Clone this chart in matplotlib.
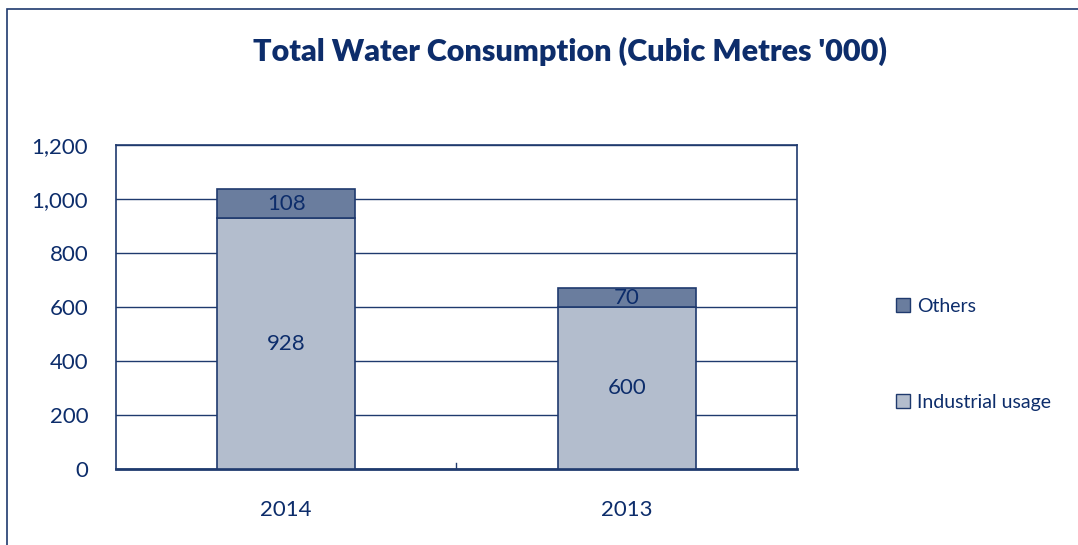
import matplotlib.pyplot as plt
import matplotlib.patches as mpatches
import numpy as np

# dados
years = ['2014', '2013']
industrial = [928, 600]
others = [108, 70]
yticks = [0, 200, 400, 600, 800, 1000, 1200]

navy = '#0d2d6b'
edge = '#1f3a6e'
c_ind = '#b3bdcd'
c_oth = '#6a7d9e'

plt.rcParams['font.family'] = ['Lato', 'DejaVu Sans']

fig = plt.figure(figsize=(10.78, 5.45), dpi=100)
ax = fig.add_axes([0.1076, 0.1394, 0.6317, 0.5945])

x = np.arange(len(years))
b1 = ax.bar(x, industrial, width=0.405, color=c_ind, edgecolor=edge, linewidth=1.2, zorder=3, label='Industrial usage')
b2 = ax.bar(x, others, width=0.405, bottom=industrial, color=c_oth, edgecolor=edge, linewidth=1.2, zorder=3, label='Others')
ax.bar_label(b1, label_type='center', fontsize=16, color=navy)
ax.bar_label(b2, label_type='center', fontsize=16, color=navy)

ax.set_xlim(-0.5, 1.5)
ax.set_ylim(0, 1200)
ax.set_yticks(yticks)
ax.set_yticklabels([f'{v:,}' for v in yticks])
ax.set_xticks(x)
ax.set_xticklabels(years)
ax.tick_params(axis='both', length=0, labelsize=16, labelcolor=navy)
ax.tick_params(axis='y', pad=20)
ax.tick_params(axis='x', pad=22)
ax.grid(axis='y', color=edge, linewidth=1)
ax.set_axisbelow(True)
for s in ax.spines.values():
    s.set_color(edge)
    s.set_linewidth(1.2)
ax.spines['bottom'].set_linewidth(2)
# separador de categoria
ax.plot([0.5, 0.5], [0, 22], color=edge, linewidth=1, zorder=4)

fig.text(0.529, 0.905, "Total Water Consumption (Cubic Metres '000)", ha='center', va='center',
         fontsize=22, fontweight='heavy', color=navy)

h = [mpatches.Patch(facecolor=c_oth, edgecolor=edge), mpatches.Patch(facecolor=c_ind, edgecolor=edge)]
fig.legend(h, ['Others', 'Industrial usage'], loc='center left', bbox_to_anchor=(0.815, 0.35),
           frameon=False, fontsize=14, labelcolor=navy, labelspacing=4.05,
           handlelength=0.7, handleheight=0.7, handletextpad=0.4)

fig.patches.append(mpatches.Rectangle((7/1078, -0.01), 1.0, 1 - 9/545 + 0.01, transform=fig.transFigure,
                                      fill=False, edgecolor=edge, linewidth=1.2))

fig.savefig('out.png', dpi=100)
